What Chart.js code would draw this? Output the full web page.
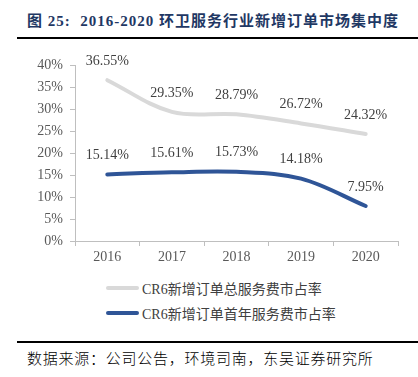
<!DOCTYPE html>
<html>
<head>
<meta charset="utf-8">
<script src="https://cdn.jsdelivr.net/npm/chart.js@4/dist/chart.umd.min.js"></script>
<style>
  html, body { margin: 0; padding: 0; background: #fff; }
  body { width: 418px; height: 377px; position: relative; overflow: hidden; }
  #title { position: absolute; left: 27px; top: 9px; font-family: "Liberation Serif", "Noto Sans CJK SC", serif; font-weight: bold; font-size: 15px; color: #1F3864; white-space: nowrap; letter-spacing: 1px; }
  .rule { position: absolute; left: 17px; width: 401px; height: 2px; background: #000; }
  #chartBox { position: absolute; left: 0; top: 40px; width: 418px; height: 235px; }
  #legend { position: absolute; left: 106px; top: 278px; font-family: "Liberation Serif", "Noto Sans CJK SC", serif; font-size: 14px; color: #404040; }
  .li { display: flex; align-items: center; height: 20px; margin-bottom: 5px; white-space: nowrap; }
  .sw { width: 33px; height: 4px; border-radius: 2px; margin-right: 3px; }
  #source { position: absolute; left: 27px; top: 347px; font-family: "Noto Sans CJK SC", sans-serif; font-weight: 300; font-size: 15px; color: #000; letter-spacing: 0.75px; white-space: nowrap; }
</style>
</head>
<body>
<div id="title">图 25:&nbsp; 2016-2020 环卫服务行业新增订单市场集中度</div>
<div class="rule" style="top:37px"></div>
<div id="chartBox"><canvas id="c"></canvas></div>
<div id="legend"></div>
<div class="rule" style="top:341px"></div>
<div id="source">数据来源：公司公告，环境司南，东吴证券研究所</div>
<script>
const categories = ["2016", "2017", "2018", "2019", "2020"];
const totalShare = [36.55, 29.35, 28.79, 26.72, 24.32];
const firstYearShare = [15.14, 15.61, 15.73, 14.18, 7.95];
const seriesNames = ["CR6新增订单总服务费市占率", "CR6新增订单首年服务费市占率"];
const seriesColors = ["#D9D9D9", "#2F5597"];
const yTicks = [0, 5, 10, 15, 20, 25, 30, 35, 40];

const labelPlugin = {
  id: 'valueLabels',
  afterDatasetsDraw(chart) {
    const ctx = chart.ctx;
    ctx.save();
    ctx.font = '14px "Liberation Serif", serif';
    ctx.fillStyle = '#404040';
    ctx.textAlign = 'center';
    ctx.textBaseline = 'middle';
    chart.data.datasets.forEach((ds, i) => {
      const meta = chart.getDatasetMeta(i);
      meta.data.forEach((pt, j) => {
        ctx.fillText(ds.data[j].toFixed(2) + '%', pt.x, pt.y - 19);
      });
    });
    ctx.restore();
  }
};

const axisColor = '#BFBFBF';
new Chart(document.getElementById('c'), {
  type: 'line',
  data: {
    labels: categories,
    datasets: [
      { label: seriesNames[0], data: totalShare, borderColor: seriesColors[0], backgroundColor: seriesColors[0], borderWidth: 4, pointRadius: 0, tension: 0.35, borderCapStyle: 'round' },
      { label: seriesNames[1], data: firstYearShare, borderColor: seriesColors[1], backgroundColor: seriesColors[1], borderWidth: 4, pointRadius: 0, tension: 0.35, borderCapStyle: 'round' }
    ]
  },
  options: {
    responsive: true,
    maintainAspectRatio: false,
    animation: false,
    layout: { padding: { top: 25, right: 20, left: 0, bottom: 0 } },
    plugins: { legend: { display: false }, tooltip: { enabled: false } },
    scales: {
      x: {
        offset: true,
        grid: { offset: true, drawOnChartArea: false, drawTicks: true, tickLength: 5, color: axisColor },
        border: { color: axisColor, width: 1 },
        ticks: { font: { family: '"Liberation Serif", serif', size: 14 }, color: '#595959', padding: 3 },
        afterFit(s) { s.height = 34; }
      },
      y: {
        min: 0, max: 40,
        afterBuildTicks(s) { s.ticks = yTicks.map(v => ({ value: v })); },
        grid: { drawOnChartArea: false, drawTicks: true, tickLength: 5, color: axisColor },
        border: { color: axisColor, width: 1 },
        ticks: { font: { family: '"Liberation Serif", serif', size: 14 }, color: '#595959', padding: 7, callback: v => v + '%' },
        afterFit(s) { s.width = 75; }
      }
    }
  },
  plugins: [labelPlugin]
});

const legend = document.getElementById('legend');
seriesNames.forEach((n, i) => {
  const d = document.createElement('div');
  d.className = 'li';
  d.innerHTML = '<span class="sw" style="background:' + seriesColors[i] + '"></span><span>' + n + '</span>';
  legend.appendChild(d);
});
</script>
</body>
</html>
